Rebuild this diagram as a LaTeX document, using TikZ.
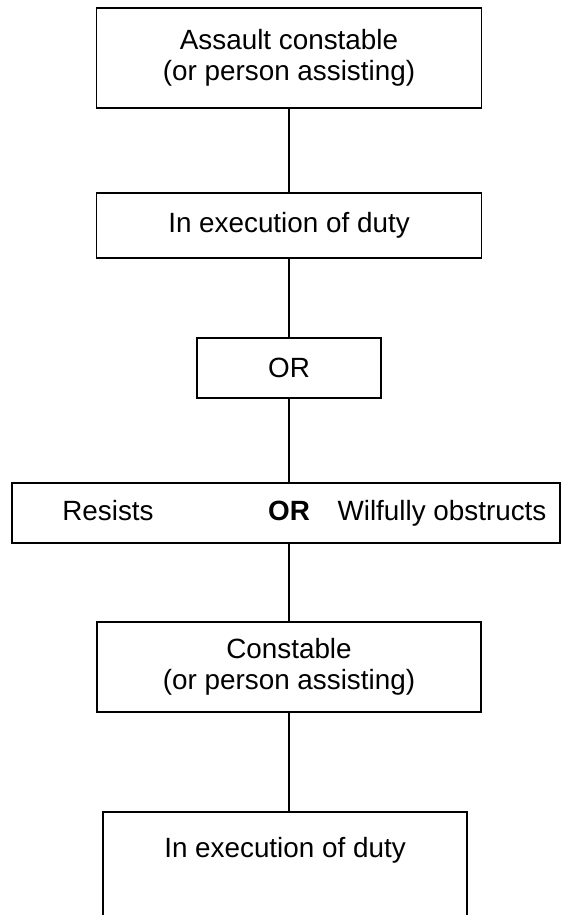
\documentclass[tikz,border=0pt]{standalone}
\usepackage{fontspec}
\setmainfont{Liberation Sans}
\tikzset{
	box/.style={draw, line width=1.3pt, inner sep=0pt, align=center},
	word/.style={anchor=base, inner sep=0pt},
	link/.style={line width=1.3pt}
}

\begin{document}
\begin{tikzpicture}[x=0.025cm, y=-0.025cm, font=\fontsize{19.8}{22}\selectfont]
	\clip (0,0) rectangle (561,915);
	\fill[white] (0,0) rectangle (561,915);
	\node[box, minimum width=9.625cm, minimum height=2.5cm] (assault) at (289,58) {Assault constable\\(or person assisting)};
	\node[box, minimum width=9.625cm, minimum height=1.625cm] (duty) at (289,225.5) {In execution of duty};
	\node[box, minimum width=4.6cm, minimum height=1.5cm] (or) at (289,368) {OR};
	\node[box, minimum width=13.7cm, minimum height=1.5cm] (acts) at (286,513) {};
	\node[word] (resists) at (108,520) {Resists};
	\node[word] (orb) at (289,520) {\textbf{OR}};
	\node[word] (obstructs) at (442,520) {Wilfully obstructs};
	\node[box, minimum width=9.6cm, minimum height=2.25cm] (constable) at (289,667) {Constable\\(or person assisting)};
	\node[box, anchor=north, minimum width=9.1cm, text height=1.15cm, text depth=3cm] (duty2) at (285,811) {In execution of duty};
	% joining lines
	\draw[link] (assault) -- (duty);
	\draw[link] (duty) -- (or);
	\draw[link] (or.south) -- (or.south |- acts.north);
	\draw[link] (acts.south -| constable) -- (constable);
	\draw[link] (constable.south) -- (constable.south |- duty2.north);
\end{tikzpicture}
\end{document}
